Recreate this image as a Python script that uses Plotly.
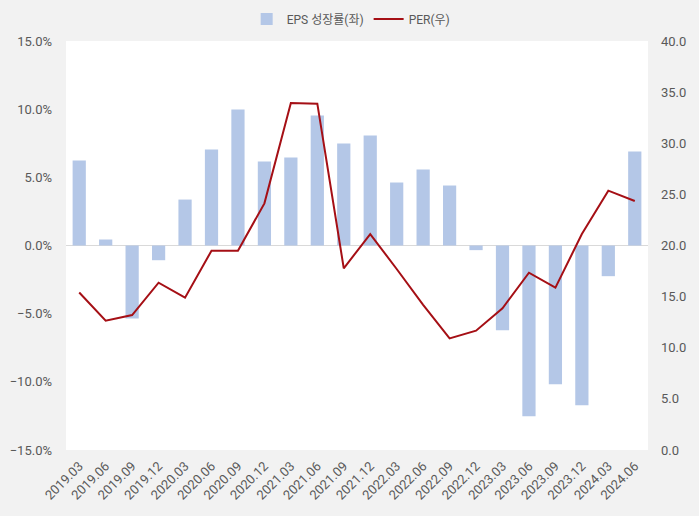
import plotly.graph_objects as go

categories = ["2019.03","2019.06","2019.09","2019.12","2020.03","2020.06","2020.09","2020.12",
              "2021.03","2021.06","2021.09","2021.12","2022.03","2022.06","2022.09","2022.12",
              "2023.03","2023.06","2023.09","2023.12","2024.03","2024.06"]
eps_growth = [6.24, 0.44, -5.36, -1.08, 3.37, 7.04, 9.98, 6.16, 6.46, 9.54, 7.48, 8.07,
              4.62, 5.58, 4.40, -0.34, -6.21, -12.52, -10.17, -11.71, -2.25, 6.90]
per = [15.4, 12.65, 13.2, 16.36, 14.9, 19.49, 19.49, 24.12, 33.94, 33.87, 17.77, 21.12,
       17.7, 14.2, 10.92, 11.67, 13.86, 17.34, 15.87, 21.12, 25.36, 24.35]

left_ticks = [-15, -10, -5, 0, 5, 10, 15]
right_ticks = [0, 5, 10, 15, 20, 25, 30, 35, 40]

font_family = "Roboto, Noto Sans CJK KR, sans-serif"
tick_color = "#595959"

fig = go.Figure()
fig.add_trace(go.Bar(
    x=categories, y=[v / 100 for v in eps_growth], name="EPS 성장률(좌)",
    marker=dict(color="#B4C7E7", line=dict(width=0)), yaxis="y",
))
fig.add_trace(go.Scatter(
    x=categories, y=per, name="PER(우)", mode="lines",
    line=dict(color="#A50F15", width=2), yaxis="y2",
))

fig.update_layout(
    width=699, height=516,
    margin=dict(l=66, r=51, t=41, b=66, autoexpand=False),
    paper_bgcolor="#F2F2F2", plot_bgcolor="#FFFFFF",
    font=dict(family=font_family, size=12, color=tick_color),
    bargap=0.5,
    showlegend=True,
    legend=dict(orientation="h", x=0.49, xanchor="center", y=1.054, yanchor="middle",
                bgcolor="rgba(0,0,0,0)", font=dict(size=12, color=tick_color),
                traceorder="normal"),
    xaxis=dict(type="category", tickangle=-45, showgrid=False, zeroline=False,
               showline=False, ticks="", automargin=False, ticklabelstandoff=5,
               tickfont=dict(size=13, color=tick_color)),
    yaxis=dict(range=[-0.15, 0.15], tickvals=[v / 100 for v in left_ticks],
               tickformat=".1%", showgrid=False, zeroline=True, zerolinecolor="#D9D9D9",
               zerolinewidth=1, showline=False, ticks="", ticklabelstandoff=13,
               automargin=False, tickfont=dict(size=13, color=tick_color)),
    yaxis2=dict(range=[0, 40], tickvals=right_ticks, tickformat=".1f",
                overlaying="y", side="right", showgrid=False, zeroline=False,
                showline=False, ticks="", ticklabelstandoff=12, automargin=False,
                tickfont=dict(size=13, color=tick_color)),
)

fig.write_html("out.html", config={"displayModeBar": False},
               post_script="document.body.style.margin='0';document.body.style.padding='0';")
